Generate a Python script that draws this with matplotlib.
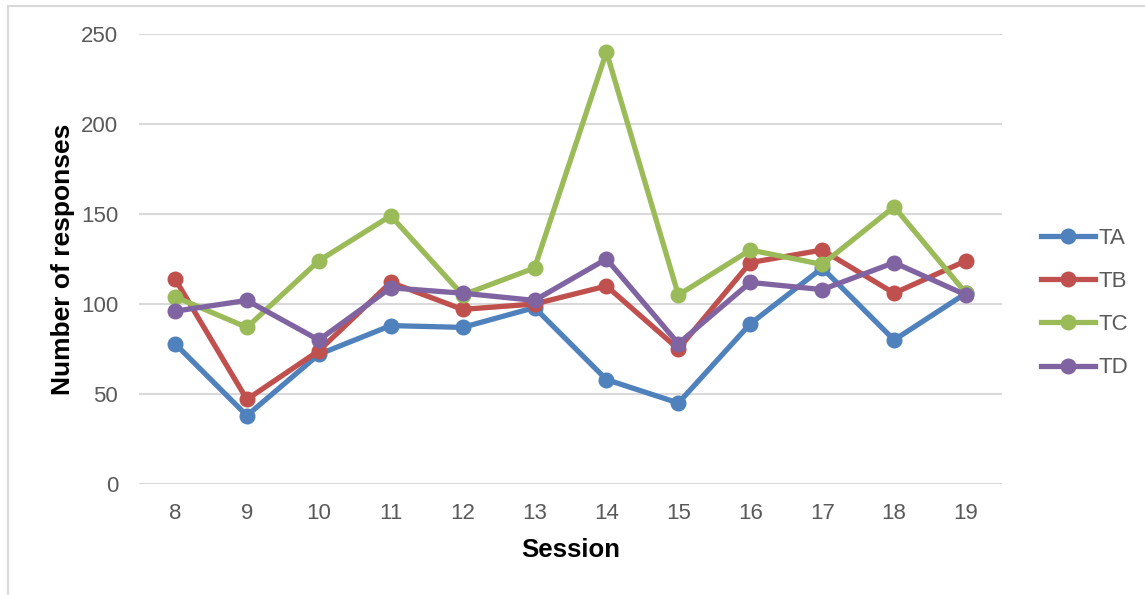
import matplotlib.pyplot as plt
from matplotlib.lines import Line2D

plt.rcParams['font.family'] = ['Liberation Sans', 'DejaVu Sans']

sessions = ['8', '9', '10', '11', '12', '13', '14', '15', '16', '17', '18', '19']
ta = [78, 38, 72, 88, 87, 98, 58, 45, 89, 120, 80, 106]
tb = [114, 47, 74, 112, 97, 100, 110, 75, 123, 130, 106, 124]
tc = [104, 87, 124, 149, 105, 120, 240, 105, 130, 122, 154, 106]
td = [96, 102, 80, 109, 106, 102, 125, 78, 112, 108, 123, 105]

series = [('TA', ta, '#4F81BD'), ('TB', tb, '#C0504D'),
          ('TC', tc, '#9BBB59'), ('TD', td, '#8064A2')]

fig = plt.figure(figsize=(11.45, 5.95), dpi=100)
ax = fig.add_axes([139 / 1145, 111 / 595, 863 / 1145, 450 / 595])

x = range(len(sessions))
for i, (name, vals, col) in enumerate(series):
    ax.plot(x, vals, color=col, lw=3.8, marker='o', ms=10.5,
            label=name, zorder=3 + i, solid_joinstyle='round')

ax.set_xlim(-0.5, len(sessions) - 0.5)
ax.set_ylim(0, 250)
ax.set_yticks(range(0, 251, 50))
ax.set_xticks(list(x))
ax.set_xticklabels(sessions)
ax.grid(axis='y', color='#D9D9D9', lw=1.5)
ax.set_axisbelow(True)
for s in ax.spines.values():
    s.set_visible(False)
ax.tick_params(length=0, labelsize=16, labelcolor='#595959')
ax.tick_params(axis='y', pad=15)
ax.tick_params(axis='x', pad=14)

ax.set_xlabel('Session', fontsize=18.5, fontweight='bold', labelpad=10)
ax.set_ylabel('Number of responses', fontsize=19, fontweight='bold', labelpad=4)

leg = ax.legend(loc='center left', bbox_to_anchor=(1041 / 1145, 292 / 595),
                bbox_transform=fig.transFigure, frameon=False, fontsize=16,
                handlelength=2.45, handletextpad=0.15, labelspacing=1.0,
                borderaxespad=0, borderpad=0)
for t in leg.get_texts():
    t.set_color('#595959')

# light frame (top and left edges) around the chart area
fx, fy = 7.5 / 1145, 589.5 / 595
fig.add_artist(Line2D([fx, 1.0], [fy, fy], transform=fig.transFigure,
                      color='#D9D9D9', lw=1.5))
fig.add_artist(Line2D([fx, fx], [0.0, fy], transform=fig.transFigure,
                      color='#D9D9D9', lw=1.5))

fig.savefig('out.png', dpi=100)
